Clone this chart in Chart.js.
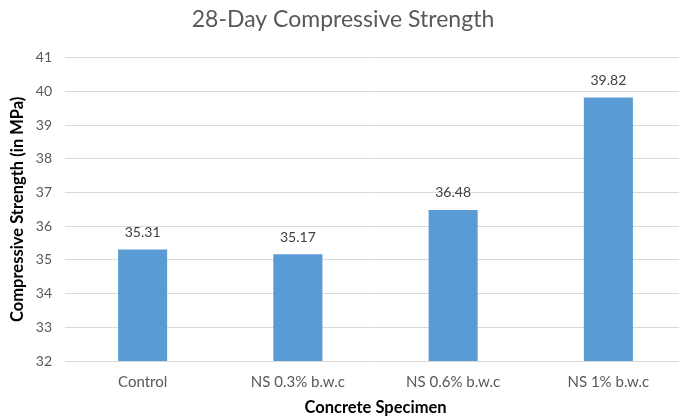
<!DOCTYPE html>
<html>
<head>
<meta charset="utf-8">
<script src="https://cdn.jsdelivr.net/npm/chart.js@4.4.0/dist/chart.umd.min.js"></script>
<style>
  html, body { margin: 0; padding: 0; background: #fff; overflow: hidden; }
  #wrap { width: 690px; height: 418px; }
</style>
</head>
<body>
<div id="wrap"><canvas id="strengthChart"></canvas></div>
<script>
var specimens = ['Control', 'NS 0.3% b.w.c', 'NS 0.6% b.w.c', 'NS 1% b.w.c'];
var strength = [35.31, 35.17, 36.48, 39.82];

// draws the value above every bar
const barLabels = {
    id: 'barLabels',
    afterDatasetsDraw(chart) {
        const ctx = chart.ctx;
        const meta = chart.getDatasetMeta(0);
        ctx.save();
        ctx.font = '14px Lato';
        ctx.fillStyle = '#404040';
        ctx.textAlign = 'center';
        ctx.textBaseline = 'middle';
        meta.data.forEach(function(bar, i){
            ctx.fillText(strength[i].toFixed(2), bar.x, bar.y - 17);
        });
        ctx.restore();
    }
};

const dt = {
    labels: specimens,
    datasets: [{
        label: 'Compressive Strength',
        data: strength,
        backgroundColor: '#5b9bd5',
        borderWidth: 0,
        categoryPercentage: 1,
        barPercentage: 0.316
    }]
};

const config_strength = {
    type: 'bar',
    data: dt,
    plugins: [barLabels],
    options: {
        responsive: true,
        maintainAspectRatio: false,
        animation: false,
        layout: { padding: { right: 4 } },
        plugins: {
            legend: { display: false },
            tooltip: { enabled: false },
            title: {
                display: true,
                text: '28-Day Compressive Strength',
                color: '#595959',
                font: { family: 'Lato', size: 23, weight: 'normal' },
                padding: { top: 6, bottom: 24 }
            }
        },
        scales: {
            x: {
                grid: { display: false, drawTicks: false },
                border: { display: false },
                ticks: { color: '#595959', font: { family: 'Lato', size: 15 }, padding: 12 },
                title: {
                    display: true,
                    text: 'Concrete Specimen',
                    color: '#000',
                    font: { family: 'Lato', size: 16.5, weight: 'bold' },
                    padding: { top: 4, bottom: 0 }
                },
                afterFit: function(scale){ scale.height = 57; }
            },
            y: {
                min: 32,
                max: 41,
                grid: { color: '#d9d9d9', drawTicks: false },
                border: { display: false },
                ticks: { stepSize: 1, color: '#595959', font: { family: 'Lato', size: 14 }, padding: 13 },
                title: {
                    display: true,
                    text: 'Compressive Strength (in MPa)',
                    color: '#000',
                    font: { family: 'Lato', size: 16.5, weight: 'bold' },
                    padding: { top: 8, bottom: 0 }
                },
                afterFit: function(scale){ scale.width = 65; }
            }
        }
    }
};

const strengthChart = new Chart(
    document.getElementById('strengthChart'),
    config_strength
);
</script>
</body>
</html>
